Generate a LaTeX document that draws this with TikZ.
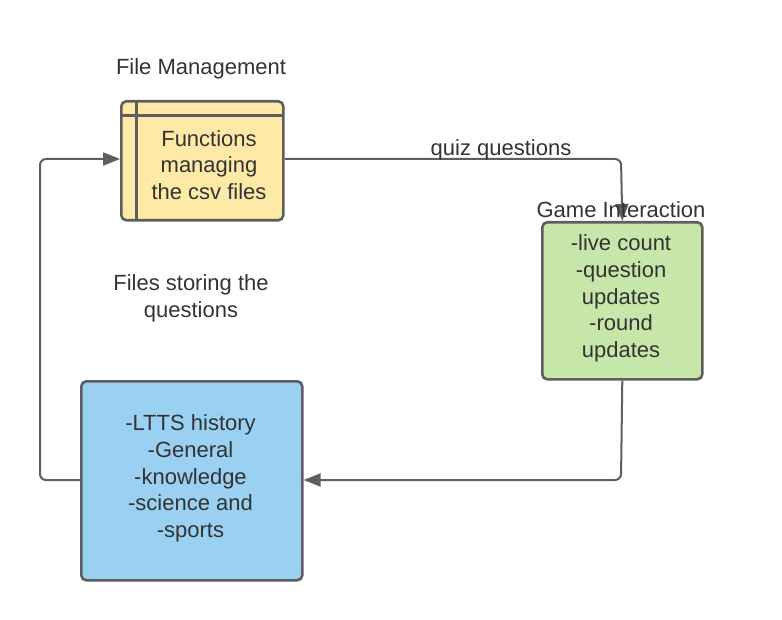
\documentclass[tikz,border=0pt]{standalone}
\usepackage{fontspec}
\setmainfont{Liberation Sans}
\usetikzlibrary{arrows.meta}
\definecolor{edgegray}{HTML}{5E5E5E}
\definecolor{textgray}{HTML}{333333}
\definecolor{yellowfill}{HTML}{FFE9A6}
\definecolor{greenfill}{HTML}{C7E6AA}
\definecolor{bluefill}{HTML}{9AD0F2}
\tikzset{
  box/.style={draw=edgegray, line width=2.6pt, rounded corners=5pt, inner sep=0pt, align=center, text=textgray},
  txt/.style={font=\fontsize{22}{26.6}\selectfont, text=textgray, align=center, inner sep=0pt},
  conn/.style={draw=edgegray, line width=2pt, rounded corners=6pt, -{Triangle[length=17pt,width=13pt]}}
}
\begin{document}
\begin{tikzpicture}[x=1pt,y=-1pt]
\useasboundingbox (0,0) rectangle (782,620);
% File management box
\node[box, fill=yellowfill, minimum width=162pt, minimum height=119pt, anchor=north west] (fm) at (120,100) {};
\draw[edgegray, line width=3pt] (136,100) -- (136,219);
\draw[edgegray, line width=3pt] (120,115.5) -- (282,115.5);
\node[txt] (fmtext) at (209,165) {Functions\\managing\\the csv files};
\node[txt] (fmtitle) at (201,69) {File Management};
% Game interaction box
\node[box, fill=greenfill, minimum width=160pt, minimum height=157pt, anchor=north west] (gi) at (541,221) {};
\node[txt] (gitext) at (621,298.5) {-live count\\-question\\updates\\-round\\updates};
% Blue box
\node[box, fill=bluefill, minimum width=221pt, minimum height=199pt, anchor=north west] (fs) at (80,380) {};
\node[txt] (fstext) at (190.5,478.5) {-LTTS history\\-General\\-knowledge\\-science and\\-sports};
% Floating label
\node[txt] (fslabel) at (191,298.5) {Files storing the\\questions};
% Connectors
\coordinate (c1) at (621,159);
\coordinate (c2) at (621,480);
\coordinate (c3) at (40,480);
\coordinate (c4) at (40,159);
\draw[conn] (fm.east |- c1) -- (c1) -- (gi.north);
\draw[conn] (gi.south) -- (c2) -- (fs.east |- c2);
\draw[conn] (fs.west |- c3) -- (c3) -- (c4) -- (fm.west |- c4);
\node[txt] (qq) at (501,149.5) {quiz questions};
\node[txt, fill=none] (gititle) at (621,209.5) {Game Interaction};
\end{tikzpicture}
\end{document}
